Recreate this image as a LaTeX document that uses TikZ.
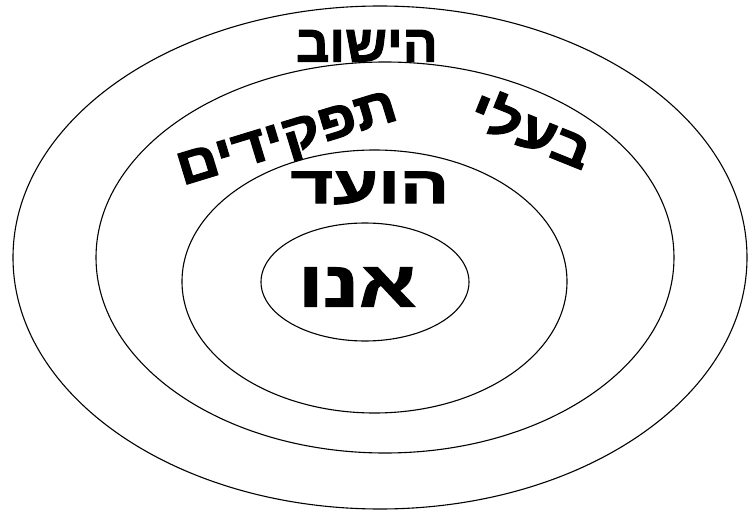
\documentclass[tikz,border=0pt]{standalone}
\usepackage{fontspec}
\newfontfamily\hebfont[Script=Hebrew, BoldFont={Liberation Sans Bold}, BoldFeatures={FakeBold=2}]{Liberation Sans}
\TeXXeTstate=1
\usetikzlibrary{shapes.geometric}

\begin{document}
\begin{tikzpicture}[
    x=1pt, y=-1pt,
    ring/.style={ellipse, draw, line width=1.1pt, inner sep=0pt},
    word/.style={font=\hebfont\bfseries\fontsize{52}{52}\selectfont, inner sep=0pt}
]
\useasboundingbox (0,0) rectangle (748,511);

% nested circles
\node[ring, minimum width=734pt, minimum height=503pt] (yishuv) at (380,257.5) {};
\node[ring, minimum width=578pt, minimum height=391pt] (roles) at (385,257.5) {};
\node[ring, minimum width=385pt, minimum height=263pt] (vaad) at (374.5,281.5) {};
\node[ring, minimum width=208pt, minimum height=118pt] (anu) at (365,282) {};

% labels
\node[word] (yishuvtext) at (367,46) {\beginR הישוב\endR};
\node[word, rotate=17, xscale=1.12] (rolesleft) at (288,142) {\beginR תפקידים\endR};
\node[word, rotate=-22, xscale=1.15] (rolesright) at (532,128) {\beginR בעלי\endR};
\node[word, xscale=1.4] (vaadtext) at (370,188) {\beginR הועד\endR};
\node[word, xscale=1.3, font=\hebfont\bfseries\fontsize{64}{64}\selectfont] (anutext) at (357,287) {\beginR אנו\endR};

\end{tikzpicture}
\end{document}
